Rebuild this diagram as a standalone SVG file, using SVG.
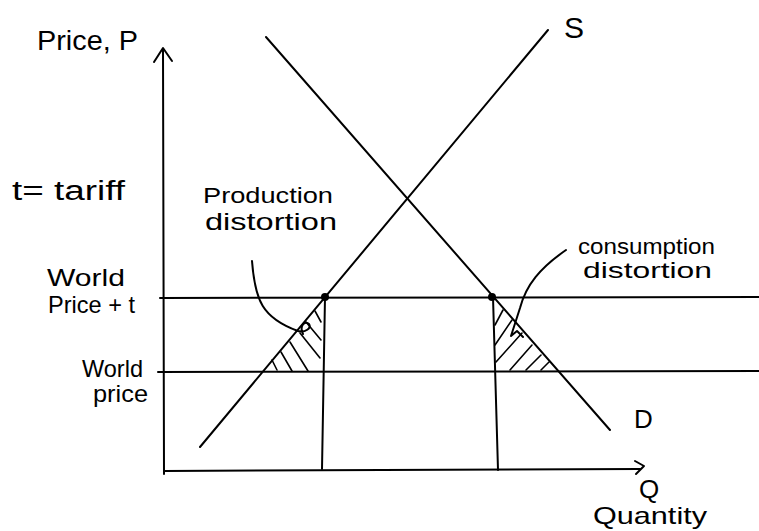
<svg xmlns="http://www.w3.org/2000/svg" width="759" height="531" viewBox="0 0 759 531">
<style>
.ln{stroke:#000;stroke-width:2;fill:none;stroke-linecap:round;stroke-linejoin:round}
.th{stroke:#000;stroke-width:1.6;fill:none;stroke-linecap:round}
.t{font-family:"Liberation Sans","DejaVu Sans",sans-serif;fill:#000;font-weight:normal}
</style>
<rect width="759" height="531" fill="#fff"/>
<g id="axes">
<path class="ln" d="M163,50 L164,474"/>
<path class="ln" d="M154,62 L163,48 L172,61"/>
<path class="ln" d="M164,471 L640,469"/>
<path class="ln" d="M635,461 L644,466 L636,474"/>
</g>
<g id="connectors">
<path id="supply" class="ln" d="M200,447 L548,30"/>
<path id="demand" class="ln" d="M266,37 L610,430"/>
<path id="wpt-line" class="ln" d="M160,298 L759,297"/>
<path id="wp-line" class="ln" d="M158,372 L759,371"/>
<path id="q1" class="ln" d="M325,297 L322,469"/>
<path id="q2" class="ln" d="M493,297 L498,470"/>
<path id="prod-pointer" class="ln" d="M252,261 C255,300 262,318 298,331 C305,333 312,328 309,324 C305,320 299,326 303,334"/>
<path id="cons-pointer" class="ln" d="M566,250 C540,268 526,285 520,308 L511,336 L517,331 L523,337"/>
</g>
<g id="points">
<circle cx="325" cy="297" r="4" fill="#000"/>
<circle cx="492" cy="297" r="4" fill="#000"/>
</g>
<g id="production-hatch">
<path class="th" d="M315,311 L321,322"/>
<path class="th" d="M306,322 L321,340"/>
<path class="th" d="M300,333 L320,358"/>
<path class="th" d="M290,342 L308,371"/>
<path class="th" d="M281,352 L292,371"/>
<path class="th" d="M272,360 L277,370"/>
</g>
<g id="consumption-hatch">
<path class="th" d="M503,310 L495,325"/>
<path class="th" d="M512,320 L495,345"/>
<path class="th" d="M522,333 L496,362"/>
<path class="th" d="M532,345 L510,370"/>
<path class="th" d="M541,355 L526,370"/>
<path class="th" d="M549,362 L541,370"/>
</g>
<g id="labels">
<text class="t" x="37" y="50" font-size="27" textLength="101" lengthAdjust="spacingAndGlyphs">Price, P</text>
<text class="t" x="12" y="200" font-size="27" textLength="113" lengthAdjust="spacingAndGlyphs">t= tariff</text>
<text class="t" x="47" y="286" font-size="24" textLength="78" lengthAdjust="spacingAndGlyphs">World</text>
<text class="t" x="48" y="313" font-size="24" textLength="87" lengthAdjust="spacingAndGlyphs">Price + t</text>
<text class="t" x="82" y="377" font-size="24" textLength="61" lengthAdjust="spacingAndGlyphs">World</text>
<text class="t" x="93" y="402" font-size="24" textLength="55" lengthAdjust="spacingAndGlyphs">price</text>
<text class="t" x="203" y="203" font-size="22" textLength="130" lengthAdjust="spacingAndGlyphs">Production</text>
<text class="t" x="205" y="230" font-size="24" textLength="132" lengthAdjust="spacingAndGlyphs">distortion</text>
<text class="t" x="578" y="254" font-size="22" textLength="137" lengthAdjust="spacingAndGlyphs">consumption</text>
<text class="t" x="583" y="278" font-size="22" textLength="129" lengthAdjust="spacingAndGlyphs">distortion</text>
<text class="t" x="564" y="38" font-size="30">S</text>
<text class="t" x="634" y="428" font-size="26">D</text>
<text class="t" x="639" y="498" font-size="26">Q</text>
<text class="t" x="593" y="524" font-size="24" textLength="114" lengthAdjust="spacingAndGlyphs">Quantity</text>
</g>
</svg>
